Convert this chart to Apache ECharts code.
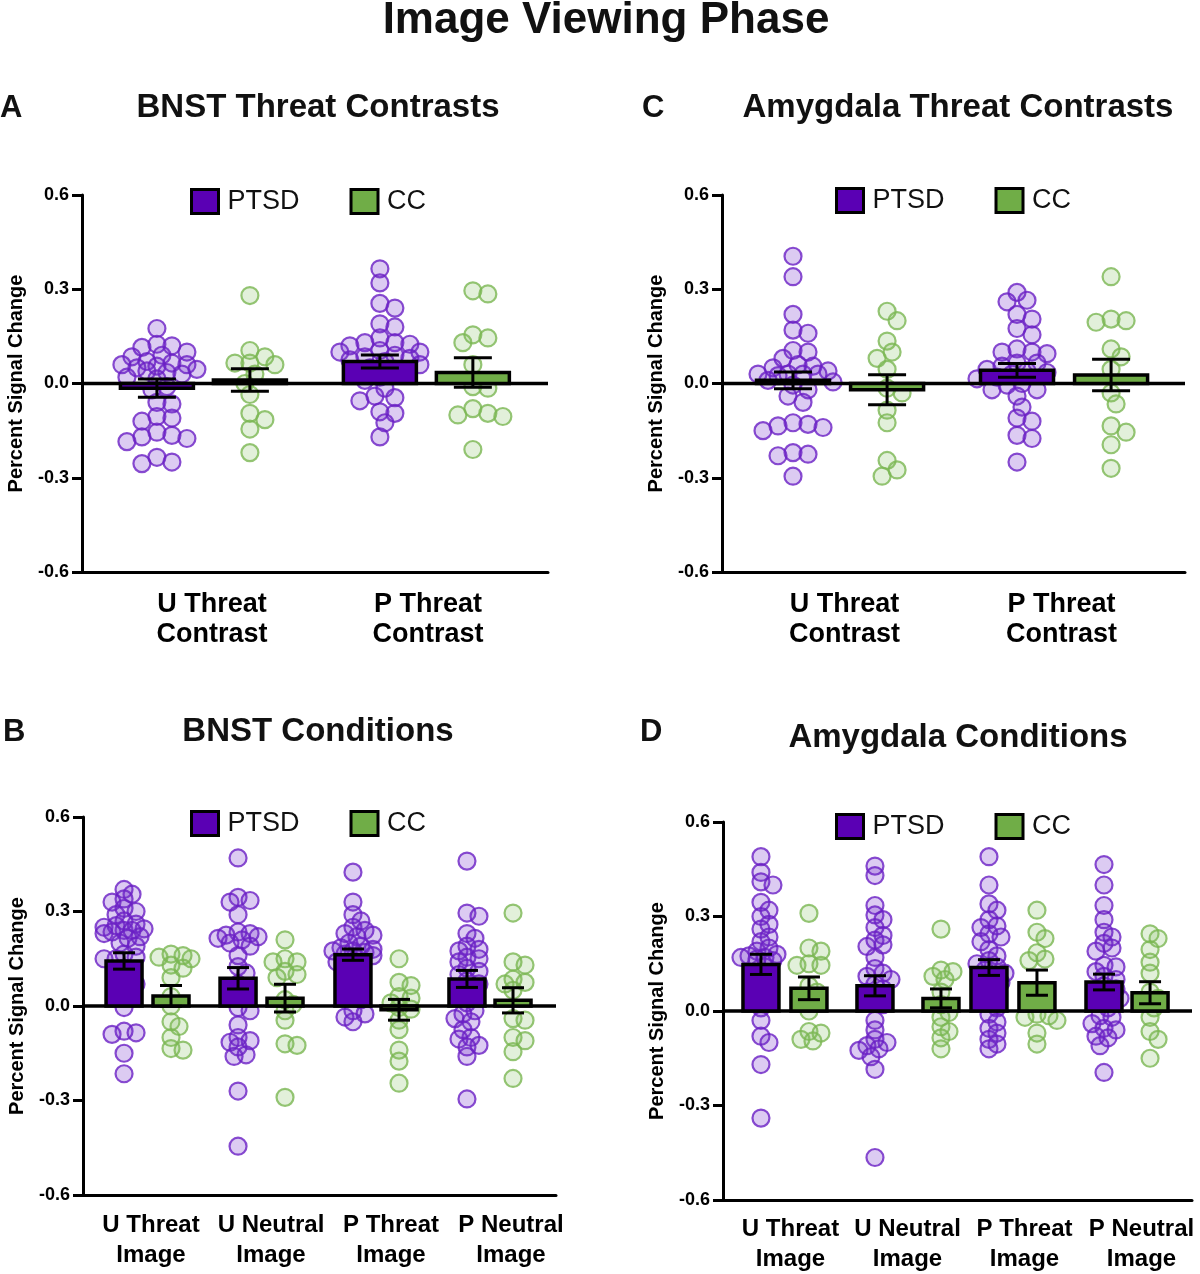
<!DOCTYPE html>
<html><head><meta charset="utf-8">
<script src="https://cdn.jsdelivr.net/npm/echarts@6/dist/echarts.min.js"></script>
<style>html,body{margin:0;padding:0;background:#fff}#c{width:1200px;height:1274px}</style>
</head><body><div id="c"></div>
<script>
// ---------- DATA ----------
const yTickValues = [-0.6, -0.3, 0.0, 0.3, 0.6];
const groupsContrast = ['U Threat\nContrast', 'P Threat\nContrast'];
const groupsImage = ['U Threat\nImage', 'U Neutral\nImage', 'P Threat\nImage', 'P Neutral\nImage'];
const seriesNames = ['PTSD', 'CC'];

// Panel A: BNST Threat Contrasts
const aPtsdU = [0.175,0.125,0.12,0.115,0.10,0.09,0.085,0.07,0.065,0.06,0.06,0.055,0.05,0.045,0.04,0.035,0.03,0.02,0.015,-0.01,-0.02,-0.06,-0.065,-0.105,-0.11,-0.12,-0.155,-0.165,-0.17,-0.175,-0.185,-0.235,-0.25,-0.255];
const aPtsdP = [0.365,0.32,0.255,0.24,0.19,0.18,0.145,0.13,0.13,0.125,0.12,0.105,0.10,0.10,0.09,0.085,0.08,0.075,0.07,0.06,0.05,0.045,0.04,0.02,0.01,-0.015,-0.04,-0.045,-0.055,-0.09,-0.095,-0.125,-0.17];
const aCcU = [0.28,0.105,0.085,0.065,0.065,0.06,0.03,0.0,-0.035,-0.095,-0.115,-0.145,-0.22];
const aCcP = [0.295,0.285,0.155,0.145,0.13,0.06,-0.01,-0.015,-0.08,-0.095,-0.1,-0.105,-0.21];
const aPtsdMean = [-0.015, 0.07];  const aPtsdSem = [0.029, 0.021];
const aCcMean = [0.011, 0.035];    const aCcSem = [0.036, 0.047];

// Panel C: Amygdala Threat Contrasts
const cPtsdU = [0.405,0.34,0.22,0.17,0.16,0.105,0.1,0.08,0.06,0.055,0.05,0.04,0.03,0.03,0.03,0.025,0.03,0.01,0.005,-0.005,-0.02,-0.04,-0.06,-0.125,-0.13,-0.135,-0.14,-0.15,-0.22,-0.225,-0.23,-0.295];
const cPtsdP = [0.29,0.265,0.26,0.22,0.205,0.175,0.155,0.11,0.1,0.1,0.095,0.065,0.065,0.055,0.045,0.04,0.035,0.03,0.02,0.015,0.0,-0.005,-0.02,-0.02,-0.04,-0.075,-0.11,-0.12,-0.165,-0.175,-0.25];
const cCcU = [0.23,0.2,0.135,0.1,0.08,0.045,-0.015,-0.03,-0.085,-0.125,-0.245,-0.275,-0.295];
const cCcP = [0.34,0.205,0.2,0.195,0.11,0.085,0.045,-0.03,-0.065,-0.135,-0.155,-0.195,-0.27];
const cPtsdMean = [0.01, 0.042];   const cPtsdSem = [0.027, 0.022];
const cCcMean = [-0.02, 0.027];    const cCcSem = [0.048, 0.05];

// Panel B: BNST Conditions
const bPtsdUT = [0.37,0.355,0.34,0.33,0.31,0.3,0.29,0.27,0.26,0.255,0.25,0.245,0.24,0.24,0.235,0.23,0.22,0.215,0.2,0.19,0.165,0.155,0.15,0.15,0.12,0.1,0.08,0.07,0.05,0.03,-0.005,-0.08,-0.085,-0.09,-0.15,-0.215];
const bPtsdUN = [0.47,0.345,0.335,0.33,0.29,0.235,0.23,0.225,0.22,0.215,0.21,0.2,0.19,0.16,0.125,0.105,0.07,0.05,0.03,-0.005,-0.015,-0.06,-0.1,-0.11,-0.115,-0.13,-0.155,-0.16,-0.27,-0.445];
const bPtsdPT = [0.425,0.33,0.29,0.27,0.25,0.24,0.23,0.225,0.22,0.2,0.19,0.185,0.18,0.175,0.175,0.17,0.165,0.16,0.15,0.14,0.12,0.1,0.08,0.06,0.04,0.02,-0.015,-0.025,-0.035,-0.05];
const bPtsdPN = [0.46,0.295,0.285,0.23,0.215,0.19,0.18,0.175,0.155,0.15,0.14,0.12,0.11,0.1,0.08,0.07,0.05,0.03,0.01,-0.015,-0.025,-0.04,-0.05,-0.075,-0.1,-0.105,-0.125,-0.13,-0.16,-0.295];
const bCcUT = [0.165,0.16,0.155,0.15,0.13,0.12,0.09,0.03,0.0,-0.05,-0.065,-0.1,-0.135,-0.14];
const bCcUN = [0.21,0.15,0.14,0.14,0.11,0.1,0.09,0.02,0.005,-0.015,-0.045,-0.12,-0.125,-0.29];
const bCcPT = [0.15,0.075,0.065,0.03,0.025,0.01,-0.005,-0.01,-0.045,-0.075,-0.14,-0.175,-0.245];
const bCcPN = [0.295,0.14,0.13,0.085,0.075,0.07,0.05,-0.04,-0.045,-0.1,-0.11,-0.145,-0.23];
const bPtsdMean = [0.143, 0.088, 0.163, 0.086]; const bPtsdSem = [0.026, 0.034, 0.018, 0.027];
const bCcMean = [0.032, 0.025, -0.012, 0.018];  const bCcSem = [0.033, 0.044, 0.033, 0.04];

// Panel D: Amygdala Conditions
const dPtsdUT = [0.49,0.44,0.41,0.4,0.345,0.32,0.3,0.275,0.26,0.235,0.22,0.2,0.19,0.18,0.175,0.17,0.17,0.165,0.16,0.14,0.12,0.1,0.08,0.05,0.03,0.01,-0.03,-0.08,-0.1,-0.17,-0.34];
const dPtsdUN = [0.46,0.43,0.335,0.305,0.29,0.265,0.24,0.225,0.21,0.205,0.17,0.135,0.12,0.11,0.1,0.085,0.07,0.06,0.045,0.02,-0.03,-0.06,-0.09,-0.1,-0.11,-0.12,-0.125,-0.145,-0.185,-0.465];
const dPtsdPT = [0.49,0.4,0.34,0.32,0.29,0.27,0.265,0.245,0.235,0.22,0.195,0.175,0.16,0.15,0.14,0.13,0.12,0.1,0.09,0.07,0.05,0.03,0.01,-0.01,-0.035,-0.055,-0.07,-0.09,-0.105,-0.12];
const dPtsdPN = [0.465,0.4,0.335,0.29,0.25,0.235,0.215,0.2,0.19,0.145,0.14,0.125,0.11,0.1,0.08,0.07,0.06,0.05,0.04,0.03,0.01,-0.015,-0.02,-0.04,-0.055,-0.06,-0.08,-0.085,-0.11,-0.195];
const dCcUT = [0.31,0.2,0.19,0.15,0.145,0.145,0.08,0.06,0.0,-0.065,-0.07,-0.09,-0.095];
const dCcUN = [0.26,0.13,0.125,0.11,0.1,0.06,0.02,-0.005,-0.02,-0.05,-0.065,-0.085,-0.12];
const dCcPT = [0.32,0.25,0.23,0.185,0.165,0.16,0.04,-0.01,-0.015,-0.02,-0.03,-0.07,-0.105];
const dCcPN = [0.245,0.23,0.195,0.155,0.12,0.06,0.04,0.03,0.01,-0.02,-0.065,-0.09,-0.15];
const dPtsdMean = [0.148, 0.08, 0.138, 0.092]; const dPtsdSem = [0.032, 0.032, 0.025, 0.025];
const dCcMean = [0.072, 0.04, 0.09, 0.058];    const dCcSem = [0.036, 0.03, 0.04, 0.035];

// ---------- LAYOUT / STYLE ----------
const FONT = '"Liberation Sans", Arial, Helvetica, sans-serif';
const PTSD_BAR = '#5a00b4', CC_BAR = '#70ad47';
const PTSD_PT_FILL = 'rgba(112,42,200,0.30)', PTSD_PT_LINE = '#6a1fc4';
const CC_PT_FILL = 'rgba(122,184,82,0.27)', CC_PT_LINE = '#7ab653';

const panels = [
  { grid:{left:82, top:195, width:466, height:377}, lab:{left:104, width:432, fs:27, margin:18},
    cats:groupsContrast, xMax:2.09, posP:[0.336,1.336], posC:[0.753,1.753], barHalf:36.5, capHalf:19,
    ptsd:[aPtsdU,aPtsdP], cc:[aCcU,aCcP], pm:aPtsdMean, ps:aPtsdSem, cm:aCcMean, cs:aCcSem,
    legend:{left:185, top:183}, sw:{step:5, minDist:12, maxSteps:8} },
  { grid:{left:722, top:195, width:463, height:377}, lab:{left:736, width:434, fs:27, margin:18},
    cats:groupsContrast, xMax:2.067, posP:[0.317,1.317], posC:[0.737,1.737], barHalf:36.5, capHalf:19,
    ptsd:[cPtsdU,cPtsdP], cc:[cCcU,cCcP], pm:cPtsdMean, ps:cPtsdSem, cm:cCcMean, cs:cCcSem,
    legend:{left:830, top:182}, sw:{step:5, minDist:12, maxSteps:8} },
  { grid:{left:83, top:817, width:473, height:378}, lab:{left:91, width:480, fs:24, margin:15},
    cats:groupsImage, xMax:4.149, posP:[0.36,1.36,2.368,3.368], posC:[0.772,1.772,2.772,3.772], barHalf:18, capHalf:11,
    ptsd:[bPtsdUT,bPtsdUN,bPtsdPT,bPtsdPN], cc:[bCcUT,bCcUN,bCcPT,bCcPN], pm:bPtsdMean, ps:bPtsdSem, cm:bCcMean, cs:bCcSem,
    legend:{left:185, top:805}, sw:{step:4, minDist:9, maxSteps:5} },
  { grid:{left:723, top:822, width:469, height:378}, lab:{left:732, width:478, fs:24, margin:15},
    cats:groupsImage, xMax:4.114, posP:[0.333,1.333,2.333,3.342], posC:[0.754,1.912,2.754,3.746], barHalf:18, capHalf:11,
    ptsd:[dPtsdUT,dPtsdUN,dPtsdPT,dPtsdPN], cc:[dCcUT,dCcUN,dCcPT,dCcPN], pm:dPtsdMean, ps:dPtsdSem, cm:dCcMean, cs:dCcSem,
    legend:{left:830, top:808}, sw:{step:4, minDist:9, maxSteps:5} }
];

// deterministic beeswarm layout (pixel offsets), no randomness
function swarm(values, pxPerY, o) {
  const order = values.map((v,i)=>i).sort((a,b)=>values[b]-values[a]);
  const placed = [], offs = new Array(values.length);
  for (const i of order) {
    const y = values[i]*pxPerY;
    let best = null, bestScore = -1, bestO = 0;
    for (let k = 0; k <= o.maxSteps*2; k++) {
      const off = (k===0 ? 0 : (k%2 ? 1 : -1)*Math.ceil(k/2)) * o.step;
      let dmin = Infinity;
      for (const p of placed) { const dx=off-p.x, dy=y-p.y; dmin = Math.min(dmin, Math.sqrt(dx*dx+dy*dy)); }
      if (dmin >= o.minDist) { best = off; break; }
      if (dmin > bestScore) { bestScore = dmin; bestO = off; }
    }
    if (best === null) best = bestO;
    placed.push({x:best, y}); offs[i] = best;
  }
  return offs;
}

const grid = [], xAxis = [], yAxis = [], series = [], legend = [];
panels.forEach((p, pi) => {
  const gi = grid.length;
  grid.push(Object.assign({containLabel:false}, p.grid));
  grid.push({left:p.lab.left, width:p.lab.width, top:p.grid.top, height:p.grid.height});
  xAxis.push({gridIndex:gi, type:'value', min:0, max:p.xMax,
    axisLine:{show:true, onZero:false, lineStyle:{color:'#000', width:3}},
    axisTick:{show:false}, axisLabel:{show:false}, splitLine:{show:false}});
  xAxis.push({gridIndex:gi+1, type:'category', data:p.cats, boundaryGap:true,
    axisLine:{show:false}, axisTick:{show:false}, splitLine:{show:false},
    axisLabel:{show:true, interval:0, color:'#000', fontFamily:FONT, fontWeight:'bold', fontSize:p.lab.fs, lineHeight:30, margin:p.lab.margin}});
  yAxis.push({gridIndex:gi, type:'value', min:yTickValues[0], max:yTickValues[yTickValues.length-1], interval:0.3,
    axisLine:{show:true, onZero:false, lineStyle:{color:'#000', width:3}},
    axisTick:{show:true, length:10, lineStyle:{color:'#000', width:3}},
    axisLabel:{formatter:v=>v.toFixed(1), color:'#000', fontFamily:FONT, fontWeight:'bold', fontSize:18, margin:13},
    splitLine:{show:false},
    name:'Percent Signal Change', nameLocation:'middle', nameGap:56, nameRotate:90,
    nameTextStyle:{color:'#000', fontFamily:FONT, fontWeight:'bold', fontSize:20}});
  yAxis.push({gridIndex:gi+1, type:'value', min:-0.6, max:0.6, show:false});

  const xi = gi, yi = gi;
  const pxPerY = p.grid.height/1.2, pxPerX = p.grid.width/p.xMax;
  const mkPts = (groups, pos) => {
    const out = [];
    groups.forEach((vals, g) => {
      const offs = swarm(vals, pxPerY, p.sw);
      vals.forEach((v, k) => out.push([pos[g] + offs[k]/pxPerX, v]));
    });
    return out;
  };
  series.push({name:'PTSD points', type:'scatter', xAxisIndex:xi, yAxisIndex:yi, z:2, silent:true,
    symbol:'circle', symbolSize:17, data:mkPts(p.ptsd, p.posP),
    itemStyle:{color:PTSD_PT_FILL, borderColor:PTSD_PT_LINE, borderWidth:2.2}});
  series.push({name:'CC points', type:'scatter', xAxisIndex:xi, yAxisIndex:yi, z:2, silent:true,
    symbol:'circle', symbolSize:17, data:mkPts(p.cc, p.posC),
    itemStyle:{color:CC_PT_FILL, borderColor:CC_PT_LINE, borderWidth:2.2}});
  series.push({type:'line', xAxisIndex:xi, yAxisIndex:yi, z:3, silent:true, symbol:'none',
    data:[[0,0],[p.xMax,0]], lineStyle:{color:'#000', width:3.5}});

  const barRender = (fill, half) => (params, api) => {
    const x = api.value(0), m = api.value(1);
    const a = api.coord([x, m]), b = api.coord([x, 0]);
    const top = Math.min(a[1], b[1]), h = Math.abs(a[1]-b[1]);
    return {type:'rect', shape:{x:a[0]-half, y:top, width:half*2, height:h},
      style:{fill:fill, stroke:'#000', lineWidth:3.5}};
  };
  const errRender = (half) => (params, api) => {
    const x = api.value(0), m = api.value(1), s = api.value(2);
    const hi = api.coord([x, m+s]), lo = api.coord([x, m-s]);
    const st = {stroke:'#000', lineWidth:3, fill:null};
    return {type:'group', children:[
      {type:'line', shape:{x1:hi[0], y1:hi[1], x2:lo[0], y2:lo[1]}, style:st},
      {type:'line', shape:{x1:hi[0]-half, y1:hi[1], x2:hi[0]+half, y2:hi[1]}, style:st},
      {type:'line', shape:{x1:lo[0]-half, y1:lo[1], x2:lo[0]+half, y2:lo[1]}, style:st}
    ]};
  };
  series.push({name:'PTSD', type:'custom', xAxisIndex:xi, yAxisIndex:yi, z:4, silent:true,
    renderItem:barRender(PTSD_BAR, p.barHalf), encode:{x:0, y:1},
    itemStyle:{color:PTSD_BAR}, data:p.pm.map((m,i)=>[p.posP[i], m])});
  series.push({name:'CC', type:'custom', xAxisIndex:xi, yAxisIndex:yi, z:4, silent:true,
    renderItem:barRender(CC_BAR, p.barHalf), encode:{x:0, y:1},
    itemStyle:{color:CC_BAR}, data:p.cm.map((m,i)=>[p.posC[i], m])});
  series.push({type:'custom', xAxisIndex:xi, yAxisIndex:yi, z:5, silent:true,
    renderItem:errRender(p.capHalf), encode:{x:0, y:1},
    data:p.pm.map((m,i)=>[p.posP[i], m, p.ps[i]]).concat(p.cm.map((m,i)=>[p.posC[i], m, p.cs[i]]))});

  legend.push({left:p.legend.left, top:p.legend.top, orient:'horizontal', itemWidth:27, itemHeight:24, itemGap:50,
    selectedMode:false,
    textStyle:{fontFamily:FONT, fontSize:27, color:'#111', padding:[0,0,0,4]},
    data:[
      {name:'PTSD', icon:'rect', itemStyle:{color:PTSD_BAR, borderColor:'#000', borderWidth:3, opacity:1}},
      {name:'CC', icon:'rect', itemStyle:{color:CC_BAR, borderColor:'#000', borderWidth:3, opacity:1}}
    ]});
});

const txt = (t, x, y, size, align) => ({type:'text', x:x, y:y, silent:true,
  style:{text:t, font:'bold '+size+'px '+FONT, fill:'#111', align:align||'center', textAlign:align||'center',
    verticalAlign:'middle', textVerticalAlign:'middle'}});

const graphic = [
  txt('Image Viewing Phase', 606, 21, 44),
  txt('A', 0, 108, 31, 'left'), txt('BNST Threat Contrasts', 318, 108, 33),
  txt('C', 642, 108, 31, 'left'), txt('Amygdala Threat Contrasts', 958, 108, 33),
  txt('B', 3, 732, 31, 'left'), txt('BNST Conditions', 318, 732, 33),
  txt('D', 640, 732, 31, 'left'), txt('Amygdala Conditions', 958, 738, 33)
];

const chart = echarts.init(document.getElementById('c'), null, {renderer:'canvas'});
chart.setOption({animation:false, backgroundColor:'#fff', grid, xAxis, yAxis, series, legend, graphic});
</script></body></html>
